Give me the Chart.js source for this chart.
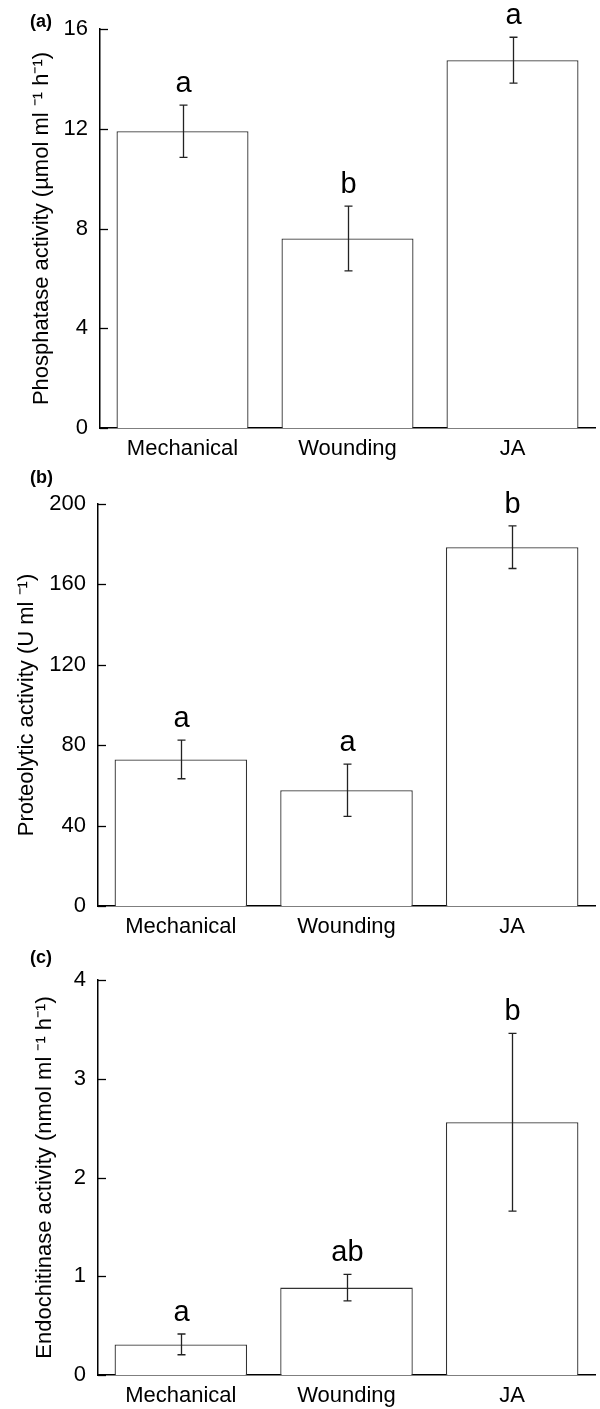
<!DOCTYPE html>
<html>
<head>
<meta charset="utf-8">
<script src="https://cdn.jsdelivr.net/npm/chart.js@4.4.1/dist/chart.umd.min.js"></script>
<style>
  body { margin: 0; background: #fff; width: 600px; height: 1409px; overflow: hidden; position: relative; }
  canvas { position: absolute; left: 0; }
</style>
</head>
<body>
<canvas id="chartA" width="600" height="462" style="top:0px"></canvas>
<canvas id="chartB" width="600" height="478" style="top:462px"></canvas>
<canvas id="chartC" width="600" height="469" style="top:940px"></canvas>
<script>
// data
const treatments = ["Mechanical", "Wounding", "JA"];

const phosphatase = [11.9, 7.6, 14.75];
const phosphataseErr = [1.05, 1.3, 0.92];
const phosphataseLetters = ["a", "b", "a"];
const phosphataseTicks = [0, 4, 8, 12, 16];

const proteolytic = [72.9, 57.6, 178.5];
const proteolyticErr = [9.6, 13.0, 10.6];
const proteolyticLetters = ["a", "a", "b"];
const proteolyticTicks = [0, 40, 80, 120, 160, 200];

const endochitinase = [0.31, 0.885, 2.56];
const endochitinaseErr = [0.105, 0.135, 0.9];
const endochitinaseLetters = ["a", "ab", "b"];
const endochitinaseTicks = [0, 1, 2, 3, 4];

const FONT = "'Liberation Sans', Arial, Helvetica, sans-serif";

// error bars, significance letters, inward y ticks and panel tag
const extras = {
    id: "extras",
    afterDraw(chart, args, opts) {
        const ctx = chart.ctx;
        const y = chart.scales.y;
        const area = chart.chartArea;
        const meta = chart.getDatasetMeta(0);
        const vals = chart.data.datasets[0].data;

        ctx.save();
        // inward tick marks
        ctx.strokeStyle = "#000";
        ctx.lineWidth = 1.3;
        y.ticks.forEach(t => {
            const py = Math.round(y.getPixelForValue(t.value)) + 0.5;
            ctx.beginPath();
            ctx.moveTo(area.left, py);
            ctx.lineTo(area.left + 8, py);
            ctx.stroke();
        });

        // error bars
        ctx.strokeStyle = "#222";
        ctx.lineWidth = 1.3;
        meta.data.forEach((bar, i) => {
            const x = Math.round(bar.x) + 0.5;
            const top = y.getPixelForValue(vals[i] + opts.err[i]);
            const bot = y.getPixelForValue(vals[i] - opts.err[i]);
            ctx.beginPath();
            ctx.moveTo(x, top);
            ctx.lineTo(x, bot);
            ctx.moveTo(x - 4, top);
            ctx.lineTo(x + 4, top);
            ctx.moveTo(x - 4, bot);
            ctx.lineTo(x + 4, bot);
            ctx.stroke();

            ctx.fillStyle = "#000";
            ctx.font = "29px " + FONT;
            ctx.textAlign = "center";
            ctx.textBaseline = "alphabetic";
            ctx.fillText(opts.letters[i], x, top - 13);
        });

        // panel tag
        ctx.fillStyle = "#000";
        ctx.font = "bold 18px " + FONT;
        ctx.textAlign = "left";
        ctx.textBaseline = "middle";
        ctx.fillText(opts.tag, 30, opts.tagY);
        ctx.restore();
    }
};

function makePanel(id, values, err, letters, ticks, title, tag, tagY, padTop, yWidth, titlePad) {
    new Chart(document.getElementById(id), {
        type: "bar",
        data: {
            labels: treatments,
            datasets: [{
                data: values,
                backgroundColor: "#fff",
                borderColor: "#333",
                borderWidth: 1.3,
                barPercentage: 0.8,
                categoryPercentage: 1.0
            }]
        },
        options: {
            responsive: false,
            animation: false,
            layout: { padding: { top: padTop, right: 5, left: 0, bottom: 0 } },
            plugins: {
                legend: { display: false },
                tooltip: { enabled: false },
                extras: { err: err, letters: letters, tag: tag, tagY: tagY }
            },
            scales: {
                x: {
                    grid: { display: false, drawTicks: false },
                    border: { color: "#000", width: 1.5 },
                    ticks: { color: "#000", font: { family: FONT, size: 22 }, padding: 8 },
                    afterFit: s => { s.height = 34; }
                },
                y: {
                    min: ticks[0],
                    max: ticks[ticks.length - 1],
                    afterBuildTicks: s => { s.ticks = ticks.map(v => ({ value: v })); },
                    grid: { display: false, drawTicks: false },
                    border: { color: "#000", width: 1.5 },
                    ticks: { color: "#000", font: { family: FONT, size: 22 }, padding: 12 },
                    title: {
                        display: true,
                        text: title,
                        color: "#000",
                        font: { family: FONT, size: 22 },
                        padding: { top: titlePad, bottom: 0 }
                    },
                    afterFit: s => { s.width = yWidth; }
                }
            }
        },
        plugins: [extras]
    });
}

makePanel("chartA", phosphatase, phosphataseErr, phosphataseLetters, phosphataseTicks,
    "Phosphatase activity (\u00b5mol ml \u207b\u00b9 h\u207b\u00b9)", "(a)", 22, 29, 100, 29);
makePanel("chartB", proteolytic, proteolyticErr, proteolyticLetters, proteolyticTicks,
    "Proteolytic activity (U ml \u207b\u00b9)", "(b)", 16, 42, 98, 14);
makePanel("chartC", endochitinase, endochitinaseErr, endochitinaseLetters, endochitinaseTicks,
    "Endochitinase activity (nmol ml \u207b\u00b9 h\u207b\u00b9)", "(c)", 18, 40, 98, 32);
</script>
</body>
</html>
